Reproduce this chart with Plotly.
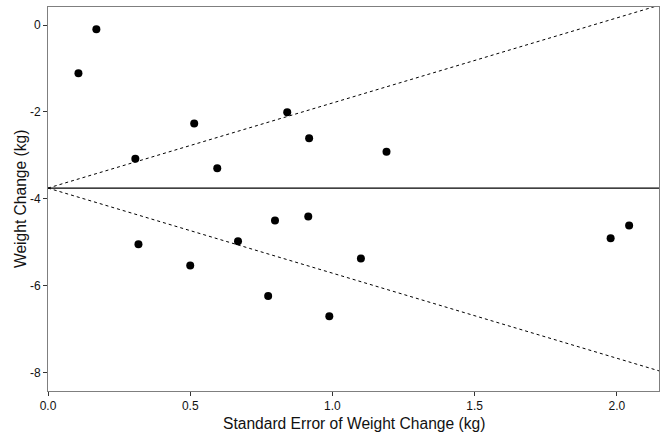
import plotly.graph_objects as go

# Data
se = [0.107, 0.170, 0.307, 0.514, 0.595, 0.841, 0.918, 1.190, 0.318,
      0.500, 0.668, 0.798, 0.915, 0.774, 0.989, 1.100, 1.978, 2.043]
change = [-1.11, -0.10, -3.08, -2.27, -3.30, -2.01, -2.61, -2.92, -5.05,
          -5.54, -4.98, -4.50, -4.41, -6.24, -6.71, -5.38, -4.91, -4.62]
pooled = -3.756
z = 1.96
se_line = [0.0, 2.148]
x_ticks = [0.0, 0.5, 1.0, 1.5, 2.0]
x_ticklabels = ["0.0", "0.5", "1.0", "1.5", "2.0"]
y_ticks = [0, -2, -4, -6, -8]
y_ticklabels = ["0", "-2", "-4", "-6", "-8"]
x_title = "Standard Error of Weight Change (kg)"
y_title = "Weight Change (kg)"

upper = [pooled + z * s for s in se_line]
lower = [pooled - z * s for s in se_line]

fig = go.Figure()
fig.add_trace(go.Scatter(x=se_line, y=[pooled, pooled], mode="lines",
                         line=dict(color="black", width=1.3), showlegend=False))
fig.add_trace(go.Scatter(x=se_line, y=upper, mode="lines",
                         line=dict(color="black", width=1, dash="3px,3px"), showlegend=False))
fig.add_trace(go.Scatter(x=se_line, y=lower, mode="lines",
                         line=dict(color="black", width=1, dash="3px,3px"), showlegend=False))
fig.add_trace(go.Scatter(x=se, y=change, mode="markers",
                         marker=dict(color="black", size=8), showlegend=False))

axis_common = dict(showgrid=False, zeroline=False, showline=True, mirror=True,
                   linecolor="#7f7f7f", linewidth=1, ticks="outside", ticklen=4,
                   tickcolor="#333333", automargin=False,
                   tickfont=dict(family="Liberation Sans, Arial", size=12, color="#111111"))

fig.update_layout(
    width=667, height=439,
    margin=dict(l=48, r=8, t=7, b=48),
    paper_bgcolor="white", plot_bgcolor="white",
    font=dict(family="Liberation Sans, Arial", color="black"),
    xaxis=dict(range=[0, 2.148], tickvals=x_ticks, ticktext=x_ticklabels, **axis_common),
    yaxis=dict(range=[-8.43, 0.415], tickvals=y_ticks, ticktext=y_ticklabels, **axis_common),
    annotations=[
        dict(text=x_title, xref="paper", yref="paper", x=0.5, y=0, yshift=-32,
             xanchor="center", yanchor="middle", showarrow=False,
             font=dict(size=15.6, color="#111111")),
        dict(text=y_title, xref="paper", yref="paper", x=0, y=0.5, xshift=-28,
             xanchor="center", yanchor="middle", showarrow=False, textangle=-90,
             font=dict(size=15.6, color="#111111")),
    ],
)

fig.write_html("out.html", config={"displayModeBar": False},
               post_script="document.body.style.margin='0';document.body.style.padding='0';")
